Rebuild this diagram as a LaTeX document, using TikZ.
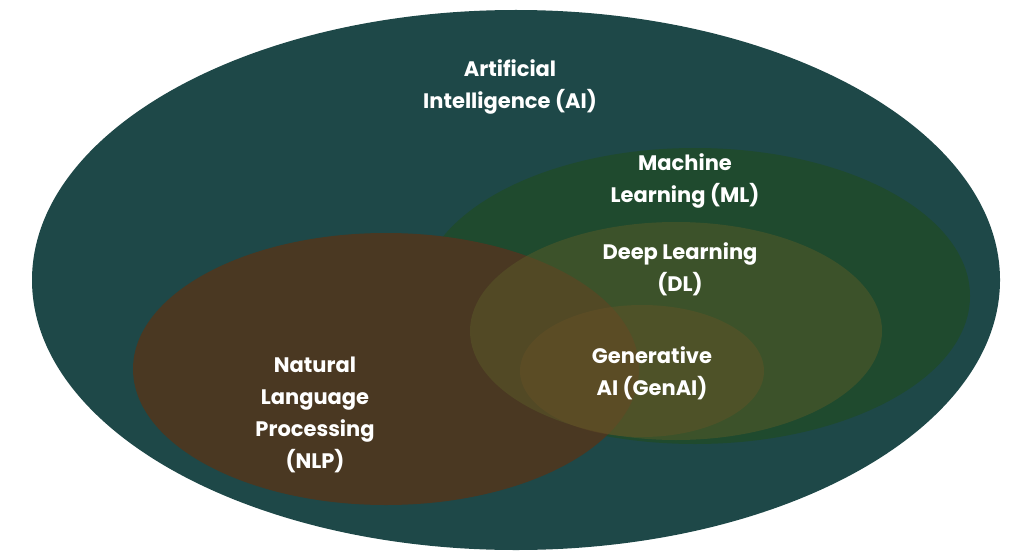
\documentclass[tikz,border=0pt]{standalone}
\usepackage{fontspec}
\setmainfont{Poppins}
\usetikzlibrary{positioning}
\definecolor{aiteal}{HTML}{1E4848}
\definecolor{mlgreen}{HTML}{1F4A2E}
\definecolor{nlpbrown}{HTML}{4A3822}
\definecolor{dlolive}{HTML}{5A5A28}
\definecolor{genolive}{HTML}{6A5226}
\tikzset{label text/.style={text=white,align=center,font=\fontsize{21}{32}\selectfont\bfseries}}
\begin{document}
\begin{tikzpicture}[x=1pt,y=-1pt]
  \useasboundingbox[fill=white] (0,0) rectangle (1024,559);
  %sets
  \fill[aiteal] (516,280) ellipse [x radius=484,y radius=270];
  \fill[mlgreen] (695,296) ellipse [x radius=275,y radius=148];
  \fill[nlpbrown] (386,369) ellipse [x radius=253,y radius=136];
  \fill[dlolive,fill opacity=0.5] (676,331) ellipse [x radius=206,y radius=109];
  \fill[genolive,fill opacity=0.4] (642,371) ellipse [x radius=122,y radius=66];
  %labels
  \node[label text] (ai) at (510,87) {Artificial\\Intelligence (AI)};
  \node[label text] (ml) at (685,181) {Machine\\Learning (ML)};
  \node[label text] (dl) at (680,269) {Deep Learning\\(DL)};
  \node[label text] (gen) at (652,373) {Generative\\AI (GenAI)};
  \node[label text] (nlp) at (315,415) {Natural\\Language\\Processing\\(NLP)};
\end{tikzpicture}
\end{document}
